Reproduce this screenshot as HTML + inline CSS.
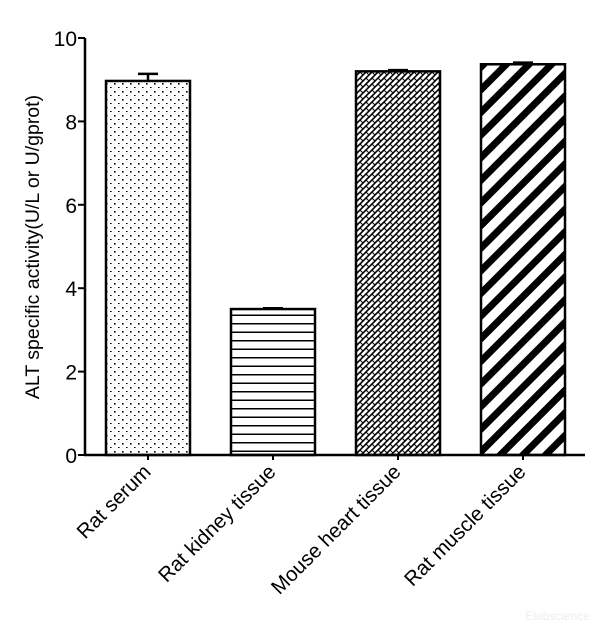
<!DOCTYPE html>
<html><head><meta charset="utf-8"><style>
html,body{margin:0;padding:0;background:#fff;}
svg text{font-family:"Liberation Sans",Arial,sans-serif;}
</style></head><body>
<svg id="chart" width="600" height="632" viewBox="0 0 600 632" xmlns="http://www.w3.org/2000/svg">
<defs>
<pattern id="p0" patternUnits="userSpaceOnUse" width="8" height="8"><rect x="2" y="3" width="1.6" height="1.6" fill="#000"/><rect x="6" y="7" width="1.6" height="1.6" fill="#000"/></pattern>
<pattern id="p1" patternUnits="userSpaceOnUse" width="8" height="8.5"><rect x="0" y="0" width="8" height="1.5" fill="#000"/></pattern>
<pattern id="p2" patternUnits="userSpaceOnUse" width="6" height="6"><path d="M0,6 L6,0 M-1,1 L1,-1 M5,7 L7,5" stroke="#000" stroke-width="1.6"/><path d="M0,0 L3,3" stroke="#000" stroke-width="1"/></pattern>
<pattern id="p3" patternUnits="userSpaceOnUse" width="16" height="16" patternTransform="rotate(45)"><rect x="0" y="0" width="7" height="16" fill="#000"/></pattern>
</defs>
<g id="plot"></g>
<text transform="translate(39,247) rotate(-90)" text-anchor="middle" font-size="19.5">ALT specific activity(U/L or U/gprot)</text>
<text x="590" y="620" text-anchor="end" font-size="12" fill="#eee">Elabscience</text>
</svg>
<script>
const categories=["Rat serum","Rat kidney tissue","Mouse heart tissue","Rat muscle tissue"];
const values=[8.97,3.5,9.2,9.37];
const errors=[0.17,0.02,0.03,0.04];
const yTicks=[0,2,4,6,8,10];
const patterns=["p0","p1","p2","p3"];
const NS="http://www.w3.org/2000/svg";
const g=document.getElementById('plot');
const y0=455,y1=38,ax=85;
function y(v){return y0-(v/10)*(y0-y1);}
function x(i){return 148+i*125;}
function mk(t,a){const e=document.createElementNS(NS,t);for(const k in a)e.setAttribute(k,a[k]);g.appendChild(e);return e;}
const bw=84;
values.forEach((v,i)=>{
 const cx=x(i);
 const eb=mk('path',{d:`M${cx},${y(v)} V${y(v+errors[i])} M${cx-10},${y(v+errors[i])} H${cx+10}`,stroke:'#000','stroke-width':2.5,fill:'none'});
 
 
 const r=mk('rect',{x:cx-bw/2,y:y(v),width:bw,height:y0-y(v),fill:'url(#'+patterns[i]+')',stroke:'#000','stroke-width':2.5});
 
 
 const tk=mk('line',{x1:cx,x2:cx,y1:y0,y2:y0+5,stroke:'#000','stroke-width':2});
 
 
 const t=mk('text',{transform:`translate(${cx+4},${y0+18}) rotate(-45)`,'text-anchor':'end','font-size':20.5});
 t.textContent=categories[i];
 
 
});
const ya=mk('line',{x1:ax,x2:ax,y1:y1,y2:y0+1,stroke:'#000','stroke-width':2.5});


const xa=mk('line',{x1:ax-1,x2:585,y1:y0,y2:y0,stroke:'#000','stroke-width':2.5});


yTicks.forEach(v=>{
 const l=mk('line',{x1:ax-7,x2:ax,y1:y(v),y2:y(v),stroke:'#000','stroke-width':2});
 
 
 const t=mk('text',{x:ax-8,y:y(v)+8,'text-anchor':'end','font-size':21});
 t.textContent=v;
 
 
});
</script>
</body></html>
